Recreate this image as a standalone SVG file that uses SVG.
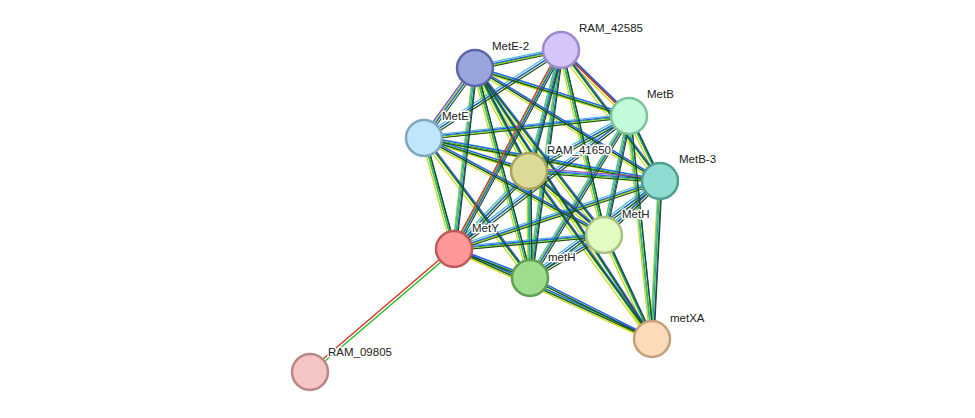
<svg xmlns="http://www.w3.org/2000/svg" xmlns:xlink="http://www.w3.org/1999/xlink" width="975" height="418" viewBox="0 0 975 418">
<style>
.n{stroke-width:2.5}
.t{font-family:"Liberation Sans",Arial,sans-serif;font-size:11.5px;fill:#222;stroke:#fff;stroke-width:3;paint-order:stroke;stroke-linejoin:round}
#E line{stroke-width:1.2}
</style>
<defs>
<g id="E">
<line x1="475" y1="68" x2="561" y2="50"/><line x1="475" y1="68" x2="629" y2="116"/><line x1="475" y1="68" x2="424" y2="138"/><line x1="475" y1="68" x2="529" y2="171"/><line x1="475" y1="68" x2="660" y2="181"/><line x1="475" y1="68" x2="604" y2="235"/><line x1="475" y1="68" x2="454" y2="249"/><line x1="475" y1="68" x2="530" y2="278"/><line x1="475" y1="68" x2="652" y2="339"/>
<line x1="561" y1="50" x2="629" y2="116"/><line x1="561" y1="50" x2="424" y2="138"/><line x1="561" y1="50" x2="529" y2="171"/><line x1="561" y1="50" x2="660" y2="181"/><line x1="561" y1="50" x2="604" y2="235"/><line x1="561" y1="50" x2="454" y2="249"/><line x1="561" y1="50" x2="530" y2="278"/>
<line x1="629" y1="116" x2="424" y2="138"/><line x1="629" y1="116" x2="529" y2="171"/><line x1="629" y1="116" x2="660" y2="181"/><line x1="629" y1="116" x2="604" y2="235"/><line x1="629" y1="116" x2="454" y2="249"/><line x1="629" y1="116" x2="530" y2="278"/><line x1="629" y1="116" x2="652" y2="339"/>
<line x1="424" y1="138" x2="529" y2="171"/><line x1="424" y1="138" x2="660" y2="181"/><line x1="424" y1="138" x2="604" y2="235"/><line x1="424" y1="138" x2="454" y2="249"/><line x1="424" y1="138" x2="530" y2="278"/>
<line x1="529" y1="171" x2="660" y2="181"/><line x1="529" y1="171" x2="604" y2="235"/><line x1="529" y1="171" x2="454" y2="249"/><line x1="529" y1="171" x2="530" y2="278"/><line x1="529" y1="171" x2="652" y2="339"/>
<line x1="660" y1="181" x2="604" y2="235"/><line x1="660" y1="181" x2="454" y2="249"/><line x1="660" y1="181" x2="530" y2="278"/><line x1="660" y1="181" x2="652" y2="339"/>
<line x1="604" y1="235" x2="454" y2="249"/><line x1="604" y1="235" x2="530" y2="278"/><line x1="604" y1="235" x2="652" y2="339"/>
<line x1="454" y1="249" x2="530" y2="278"/><line x1="454" y1="249" x2="652" y2="339"/><line x1="530" y1="278" x2="652" y2="339"/>
</g>
</defs>
<g id="connectors" fill="none">
<use xlink:href="#E" stroke="#c8d800" transform="translate(-2,1.5)"/>
<use xlink:href="#E" stroke="#40b8d8" transform="translate(-1,-2)"/>
<use xlink:href="#E" stroke="#22c022" transform="translate(0,0)"/>
<use xlink:href="#E" stroke="#3050f0" transform="translate(1.5,-1)"/>
<use xlink:href="#E" stroke="#1a4d1a" transform="translate(2,1.5)"/>
<line x1="454" y1="249" x2="310" y2="372" stroke="#e03030" stroke-width="1.4" transform="translate(-1,-1)"/>
<line x1="454" y1="249" x2="310" y2="372" stroke="#22c022" stroke-width="1.4" transform="translate(1,1)"/>
<line x1="561" y1="50" x2="454" y2="249" stroke="#e03030" stroke-width="1.2" transform="translate(-2,0)"/>
<line x1="561" y1="50" x2="629" y2="116" stroke="#e03030" stroke-width="1.2" transform="translate(1,1)"/>
<line x1="529" y1="171" x2="660" y2="181" stroke="#a040c0" stroke-width="1.2" transform="translate(0,-3)"/>
<line x1="424" y1="138" x2="475" y2="68" stroke="#a040c0" stroke-width="1.2" transform="translate(-3,0)"/>
</g>
<g id="n-MetE-2"><circle class="n" cx="475" cy="68" r="18" fill="#9aa5de" stroke="#5a68a8"/><text class="t" x="492" y="50">MetE-2</text></g>
<g id="n-RAM_42585"><circle class="n" cx="561" cy="50" r="18" fill="#d5c5fb" stroke="#9d8ac8"/><text class="t" x="579" y="32">RAM_42585</text></g>
<g id="n-MetB"><circle class="n" cx="629" cy="116" r="18" fill="#c2fbd9" stroke="#7cc49c"/><text class="t" x="647" y="98">MetB</text></g>
<g id="n-MetE"><circle class="n" cx="424" cy="138" r="18" fill="#bfe6fb" stroke="#7fa8c0"/><text class="t" x="442" y="120">MetE</text></g>
<g id="n-RAM_41650"><circle class="n" cx="529" cy="171" r="18" fill="#ddda98" stroke="#a8a460"/><text class="t" x="547" y="154">RAM_41650</text></g>
<g id="n-MetB-3"><circle class="n" cx="660" cy="181" r="18" fill="#8fdcd2" stroke="#4e9e94"/><text class="t" x="679" y="163">MetB-3</text></g>
<g id="n-MetH"><circle class="n" cx="604" cy="235" r="18" fill="#e2fbc0" stroke="#a6c480"/><text class="t" x="622" y="218">MetH</text></g>
<g id="n-MetY"><circle class="n" cx="454" cy="249" r="18" fill="#fd9898" stroke="#c05858"/><text class="t" x="472" y="232">MetY</text></g>
<g id="n-metH"><circle class="n" cx="530" cy="278" r="18" fill="#9edc8e" stroke="#60a050"/><text class="t" x="548" y="261">metH</text></g>
<g id="n-metXA"><circle class="n" cx="652" cy="339" r="18" fill="#fcdcb8" stroke="#c4a078"/><text class="t" x="670" y="322">metXA</text></g>
<g id="n-RAM_09805"><circle class="n" cx="310" cy="372" r="18" fill="#f5c5c5" stroke="#b88888"/><text class="t" x="328" y="356">RAM_09805</text></g>
</svg>
